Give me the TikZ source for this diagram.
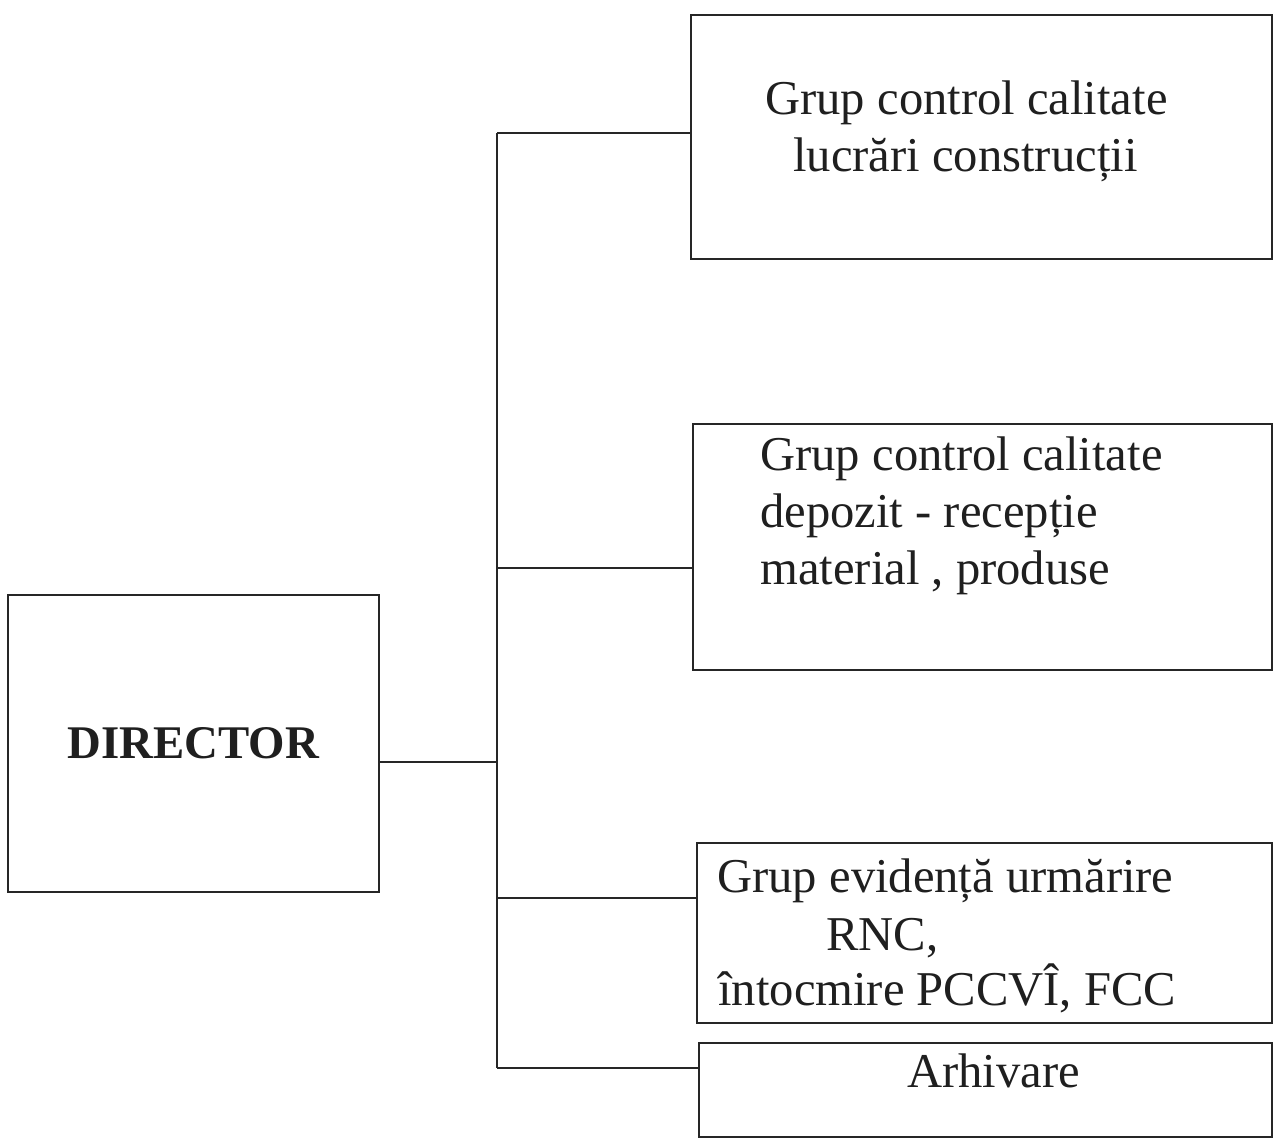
\documentclass[tikz,border=0pt]{standalone}
\usepackage{fontspec}
\setmainfont{Liberation Serif}
\begin{document}
\begin{tikzpicture}[x=0.5pt,y=-0.5pt,
  box/.style={draw=black!85, line width=0.8pt, rectangle, inner sep=0pt, anchor=north west},
  txt/.style={anchor=base west, inner sep=0pt, font=\fontsize{24.3}{28}\selectfont, text=black!88},
  conn/.style={draw=black!85, line width=0.8pt}]
\useasboundingbox[fill=white] (0,0) rectangle (1275,1139);
% boxes
\node[box, minimum width=185.5pt, minimum height=148.5pt,
      font=\fontsize{23.4}{28}\selectfont\bfseries, text=black!88] (dir) at (7,594) {DIRECTOR};
\node[box, minimum width=290.5pt, minimum height=122pt] (b1) at (690,14) {};
\node[box, minimum width=289.5pt, minimum height=123pt] (b2) at (692,423) {};
\node[box, minimum width=287.5pt, minimum height=90pt] (b3) at (696,842) {};
\node[box, minimum width=286.5pt, minimum height=47pt] (b4) at (698,1042) {};
% texts
\node[txt] (t1a) at (765,115) {Grup control calitate};
\node[txt] (t1b) at (793,172) {lucrări construcții};
\node[txt] (t2a) at (760,470) {Grup control calitate};
\node[txt] (t2b) at (760,527) {depozit - recepție};
\node[txt] (t2c) at (760,584) {material , produse};
\node[txt] (t3a) at (717,892) {Grup evidență urmărire};
\node[txt] (t3b) at (826,950) {RNC,};
\node[txt] (t3c) at (718,1005) {întocmire PCCVÎ, FCC};
\node[txt] (t4) at (907,1087) {Arhivare};
% connectors
\coordinate (j0) at (497,762);
\coordinate (j1) at (497,133);
\coordinate (j2) at (497,568);
\coordinate (j3) at (497,898);
\coordinate (j4) at (497,1068);
\draw[conn] (j1) -- (j4);
\draw[conn] (dir.east |- j0) -- (j0);
\draw[conn] (j1) -- (j1 -| b1.west);
\draw[conn] (j2) -- (j2 -| b2.west);
\draw[conn] (j3) -- (j3 -| b3.west);
\draw[conn] (j4) -- (j4 -| b4.west);
\end{tikzpicture}
\end{document}
